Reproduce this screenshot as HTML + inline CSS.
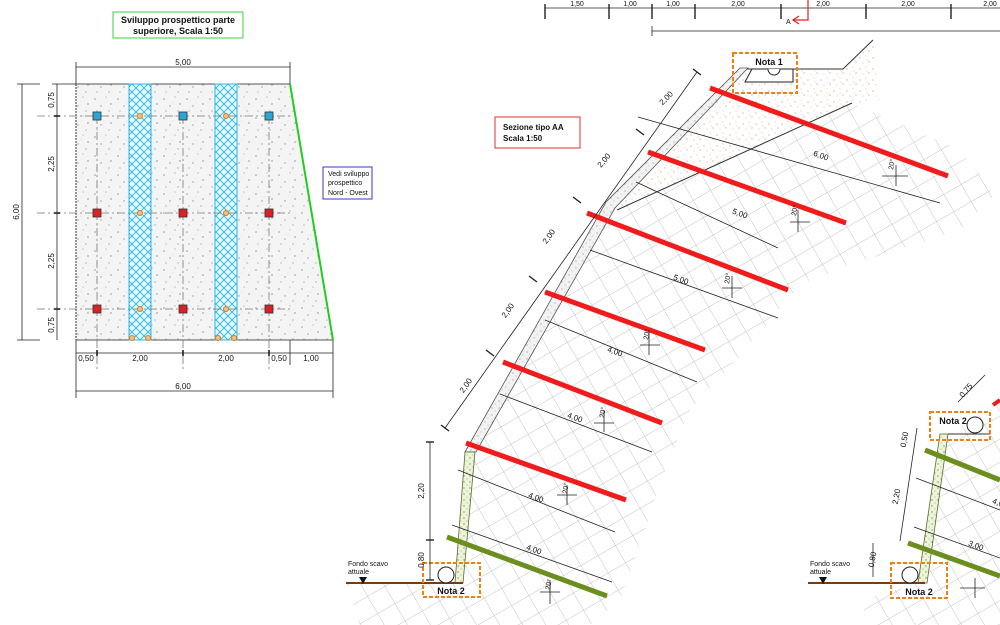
<!DOCTYPE html>
<html><head><meta charset="utf-8"><style>
html,body{margin:0;padding:0;background:#fff;width:1000px;height:625px;overflow:hidden}
svg{display:block}
text{font-family:"Liberation Sans",sans-serif;fill:#111}
</style></head><body>
<svg width="1000" height="625" viewBox="0 0 1000 625" xmlns="http://www.w3.org/2000/svg">
<defs>
<pattern id="conc" width="23" height="19" patternUnits="userSpaceOnUse">
<rect width="23" height="19" fill="#f4f4f4"/>
<circle cx="3" cy="4" r=".8" fill="#999"/><circle cx="14" cy="2" r=".6" fill="#aaa"/><circle cx="9" cy="11" r=".7" fill="#999"/><circle cx="19" cy="9" r=".9" fill="#aaa"/><circle cx="5" cy="16" r=".6" fill="#999"/><circle cx="17" cy="16" r=".7" fill="#aaa"/><circle cx="12" cy="7" r=".4" fill="#bbb"/>
</pattern>
<pattern id="hatch" width="8" height="8" patternUnits="userSpaceOnUse">
<rect width="8" height="8" fill="#e6f7fc"/>
<path d="M0,0L8,8M8,0L0,8" stroke="#29b6e8" stroke-width="0.9"/>
</pattern>
<pattern id="grid" width="20" height="20" patternUnits="userSpaceOnUse" patternTransform="rotate(-30)">
<path d="M0,0H20M0,0V20" stroke="#c4c4c4" stroke-width="1" fill="none"/>
</pattern>
<pattern id="sand" width="13" height="11" patternUnits="userSpaceOnUse">
<circle cx="2" cy="3" r=".6" fill="#d9905a"/><circle cx="8" cy="1" r=".5" fill="#e0a070"/><circle cx="11" cy="7" r=".6" fill="#d9905a"/><circle cx="5" cy="8" r=".5" fill="#e0a070"/><circle cx="9" cy="5" r=".4" fill="#c98050"/>
</pattern>
<pattern id="wallp" width="7" height="7" patternUnits="userSpaceOnUse">
<rect width="7" height="7" fill="#f2f2f2"/><circle cx="2" cy="2" r=".6" fill="#999"/><circle cx="5" cy="5" r=".5" fill="#aaa"/>
</pattern>
<pattern id="wallg" width="6" height="6" patternUnits="userSpaceOnUse">
<rect width="6" height="6" fill="#eef3dc"/><circle cx="2" cy="2" r=".7" fill="#7a9a30"/><circle cx="5" cy="5" r=".5" fill="#7a9a30"/>
</pattern>
</defs>

<!-- LEFT PANEL -->
<rect x="113" y="12" width="130" height="26" fill="#fff" stroke="#3ccf3c" stroke-width="1"/>
<text x="178" y="23" font-size="9" font-weight="bold" text-anchor="middle">Sviluppo prospettico parte</text>
<text x="178" y="34" font-size="9" font-weight="bold" text-anchor="middle">superiore, Scala 1:50</text>

<polygon points="76,84 290,84 333,340 76,340" fill="url(#conc)"/>
<line x1="76" y1="84" x2="76" y2="340" stroke="#333" stroke-width="1" stroke-dasharray="2,1"/>
<line x1="76" y1="84" x2="290" y2="84" stroke="#555" stroke-width="1"/>
<line x1="76" y1="340" x2="333" y2="340" stroke="#555" stroke-width="1"/>
<line x1="290" y1="84" x2="333" y2="340" stroke="#22cc22" stroke-width="2"/>
<rect x="129" y="84" width="22" height="256" fill="url(#hatch)" stroke="#29b6e8"/>
<rect x="215" y="84" width="22" height="256" fill="url(#hatch)" stroke="#29b6e8"/>
<g stroke="#777" stroke-width="0.8" stroke-dasharray="8,3,2,3">
<line x1="37" y1="116" x2="290" y2="116"/><line x1="37" y1="213" x2="290" y2="213"/><line x1="37" y1="309" x2="290" y2="309"/>
<line x1="97" y1="116" x2="97" y2="372"/><line x1="183" y1="116" x2="183" y2="372"/><line x1="269" y1="116" x2="269" y2="372"/>
</g>
<g stroke="#333" stroke-width=".8">
<rect x="93" y="112" width="8" height="8" fill="#29a8d8"/><rect x="179" y="112" width="8" height="8" fill="#29a8d8"/><rect x="265" y="112" width="8" height="8" fill="#29a8d8"/>
<rect x="93" y="209" width="8" height="8" fill="#e02020"/><rect x="179" y="209" width="8" height="8" fill="#e02020"/><rect x="265" y="209" width="8" height="8" fill="#e02020"/>
<rect x="93" y="305" width="8" height="8" fill="#e02020"/><rect x="179" y="305" width="8" height="8" fill="#e02020"/><rect x="265" y="305" width="8" height="8" fill="#e02020"/>
</g>
<g fill="#f0c080" stroke="#e07a10" stroke-width="1">
<circle cx="140" cy="116" r="2.5"/><circle cx="226" cy="116" r="2.5"/><circle cx="140" cy="213" r="2.5"/><circle cx="226" cy="213" r="2.5"/><circle cx="140" cy="309" r="2.5"/><circle cx="226" cy="309" r="2.5"/>
<circle cx="132" cy="338" r="2.5"/><circle cx="148" cy="338" r="2.5"/><circle cx="218" cy="338" r="2.5"/><circle cx="234" cy="338" r="2.5"/>
</g>
<g stroke="#222" stroke-width=".8" fill="none">
<line x1="76" y1="67" x2="290" y2="67"/><line x1="76" y1="62" x2="76" y2="84"/><line x1="290" y1="62" x2="290" y2="84"/>
<line x1="22" y1="84" x2="22" y2="340"/><line x1="17" y1="84" x2="40" y2="84"/><line x1="17" y1="340" x2="40" y2="340"/>
<line x1="57" y1="84" x2="57" y2="340"/><line x1="52" y1="84" x2="76" y2="84"/>
<line x1="76" y1="353" x2="333" y2="353"/><line x1="76" y1="340" x2="76" y2="398"/><line x1="290" y1="340" x2="290" y2="365"/><line x1="333" y1="340" x2="333" y2="398"/>
<line x1="76" y1="391" x2="333" y2="391"/>
</g>
<g stroke="#222" stroke-width="1.6">
<line x1="54" y1="116" x2="60" y2="116"/><line x1="54" y1="213" x2="60" y2="213"/><line x1="54" y1="309" x2="60" y2="309"/>
<line x1="97" y1="350" x2="97" y2="356"/><line x1="183" y1="350" x2="183" y2="356"/><line x1="269" y1="350" x2="269" y2="356"/>
</g>
<g font-size="8">
<text x="183" y="65" text-anchor="middle">5,00</text>
<text x="183" y="389" text-anchor="middle">6,00</text>
<text x="86" y="361" text-anchor="middle">0,50</text><text x="140" y="361" text-anchor="middle">2,00</text><text x="226" y="361" text-anchor="middle">2,00</text><text x="279" y="361" text-anchor="middle">0,50</text><text x="311" y="361" text-anchor="middle">1,00</text>
<text transform="translate(19,212) rotate(-90)" text-anchor="middle">6,00</text>
<text transform="translate(54,100) rotate(-90)" text-anchor="middle">0,75</text>
<text transform="translate(54,164) rotate(-90)" text-anchor="middle">2,25</text>
<text transform="translate(54,261) rotate(-90)" text-anchor="middle">2,25</text>
<text transform="translate(54,325) rotate(-90)" text-anchor="middle">0,75</text>
</g>
<rect x="323" y="167" width="49" height="32" fill="#fff" stroke="#3a3acc"/>
<g font-size="7"><text x="328" y="176">Vedi sviluppo</text><text x="328" y="185">prospettico</text><text x="328" y="195">Nord - Ovest</text></g>

<!-- TOP DIM RIGHT -->
<g stroke="#222" stroke-width=".8">
<line x1="545" y1="8" x2="1000" y2="8"/>
<line x1="652" y1="31" x2="1000" y2="31"/><line x1="652" y1="26" x2="652" y2="36"/>
</g>
<g stroke="#222" stroke-width="1.4">
<line x1="545" y1="4" x2="545" y2="19"/><line x1="609" y1="4" x2="609" y2="19"/><line x1="652" y1="4" x2="652" y2="19"/><line x1="695" y1="4" x2="695" y2="19"/><line x1="781" y1="4" x2="781" y2="19"/><line x1="866" y1="4" x2="866" y2="19"/><line x1="951" y1="4" x2="951" y2="19"/>
</g>
<g font-size="7" text-anchor="middle">
<text x="577" y="6">1,50</text><text x="630" y="6">1,00</text><text x="673" y="6">1,00</text><text x="738" y="6">2,00</text><text x="823" y="6">2,00</text><text x="908" y="6">2,00</text><text x="990" y="6">2,00</text>
</g>
<path d="M808,0V20H794" stroke="#e02020" stroke-width="1.2" fill="none"/>
<path d="M799,16L793,20L799,24" stroke="#e02020" stroke-width="1.2" fill="none"/>
<text x="786" y="24" font-size="7">A</text>

<!-- GRID SOIL -->
<polygon points="458,583 470,450 617,207 852,103 960,150 995,195 960,230 850,265 800,285 740,355 690,410 665,470 645,530 620,600 590,625 360,625 346,583" fill="url(#grid)"/>
<polygon points="920,583 940,440 1000,400 1000,625 870,625 860,600" fill="url(#grid)"/>
<!-- sand -->
<polygon points="744,69 843,69 873,40 880,100 852,103 617,210 610,205" fill="url(#sand)"/>
<path d="M744,69H843L873,40" stroke="#333" stroke-width="1" fill="none"/>
<line x1="617" y1="210" x2="852" y2="103" stroke="#333" stroke-width="1"/>

<!-- WALL -->
<polygon points="740,68 748,68 615,208 476,452 465,452 606,202" fill="url(#wallp)" stroke="#555" stroke-width=".8"/>
<polygon points="465,452 475,452 463,583 455,583" fill="url(#wallg)" stroke="#556b2f" stroke-width=".8"/>
<line x1="346" y1="583" x2="463" y2="583" stroke="#7a3b10" stroke-width="2"/>
<polygon points="359,577 367,577 363,584" fill="#111"/>
<text x="348" y="566" font-size="7">Fondo scavo</text><text x="348" y="574" font-size="7">attuale</text>
<circle cx="446" cy="575" r="8" fill="#fff" stroke="#222"/>
<rect x="423" y="563" width="57" height="34" fill="none" stroke="#f08010" stroke-width="2" stroke-dasharray="4,2"/>
<text x="451" y="594" font-size="9" font-weight="bold" text-anchor="middle">Nota 2</text>

<!-- Nota 1 -->
<polygon points="752,69 793,69 793,82 745,82" fill="#fff" stroke="#222"/>
<path d="M768,69a6,6 0 0 0 12,0" fill="#fff" stroke="#222"/>
<rect x="733" y="53" width="64" height="40" fill="none" stroke="#f08010" stroke-width="2" stroke-dasharray="4,2"/>
<text x="769" y="65" font-size="9" font-weight="bold" text-anchor="middle">Nota 1</text>

<!-- bars -->
<g stroke="#f01c1c" stroke-width="5" stroke-linecap="butt">
<line x1="710" y1="88" x2="948" y2="176"/>
<line x1="648" y1="152" x2="846" y2="223"/>
<line x1="587" y1="213" x2="788" y2="290"/>
<line x1="545" y1="292" x2="705" y2="350"/>
<line x1="503" y1="362" x2="662" y2="423"/>
<line x1="466" y1="443" x2="626" y2="500"/>
</g>
<line x1="447" y1="537" x2="607" y2="596" stroke="#6b8e1f" stroke-width="5"/>

<!-- anchor dim lines -->
<g stroke="#222" stroke-width=".8" fill="none">
<line x1="638" y1="117" x2="940" y2="203"/>
<line x1="636" y1="182" x2="778" y2="248"/>
<line x1="590" y1="250" x2="778" y2="318"/>
<line x1="545" y1="320" x2="697" y2="382"/>
<line x1="500" y1="394" x2="652" y2="452"/>
<line x1="458" y1="470" x2="615" y2="532"/>
<line x1="452" y1="525" x2="612" y2="582"/>
</g>
<g font-size="8" text-anchor="middle">
<text transform="translate(820,158) rotate(20)">6,00</text>
<text transform="translate(739,216) rotate(20)">5,00</text>
<text transform="translate(680,282) rotate(20)">5,00</text>
<text transform="translate(614,354) rotate(20)">4,00</text>
<text transform="translate(574,420) rotate(20)">4,00</text>
<text transform="translate(535,500) rotate(20)">4,00</text>
<text transform="translate(533,552) rotate(20)">4,00</text>
</g>
<g stroke="#222" stroke-width=".8" fill="none">
<path d="M882,176H908M896,165V186"/><path d="M790,222H810M798,210V232"/><path d="M722,288H742M732,276V298"/><path d="M640,345H660M649,330V355"/><path d="M594,423H614M604,410V432"/><path d="M557,495H577M567,485V505"/><path d="M540,592H560M550,580V604"/>
</g>
<g font-size="7">
<text transform="translate(893,170) rotate(-80)">20°</text><text transform="translate(796,216) rotate(-80)">20°</text><text transform="translate(729,284) rotate(-80)">20°</text><text transform="translate(648,340) rotate(-80)">20°</text><text transform="translate(604,418) rotate(-80)">20°</text><text transform="translate(567,494) rotate(-80)">20°</text><text transform="translate(550,590) rotate(-80)">20°</text>
</g>

<!-- slope dim -->
<g stroke="#222" stroke-width=".8"><line x1="445" y1="428" x2="697" y2="72"/><line x1="430" y1="442" x2="430" y2="580"/></g>
<g stroke="#222" stroke-width="1.4">
<line x1="441" y1="425" x2="449" y2="431"/><line x1="486" y1="350" x2="494" y2="356"/><line x1="529" y1="276" x2="537" y2="282"/><line x1="573" y1="197" x2="581" y2="203"/><line x1="636" y1="129" x2="644" y2="135"/><line x1="693" y1="69" x2="701" y2="75"/>
<line x1="426" y1="442" x2="434" y2="442"/><line x1="426" y1="540" x2="434" y2="540"/><line x1="426" y1="580" x2="434" y2="580"/>
</g>
<g font-size="8" text-anchor="middle">
<text transform="translate(468,387) rotate(-55)">2,00</text>
<text transform="translate(510,312) rotate(-55)">2,00</text>
<text transform="translate(551,238) rotate(-55)">2,00</text>
<text transform="translate(606,162) rotate(-50)">2,00</text>
<text transform="translate(668,100) rotate(-45)">2,00</text>
<text transform="translate(424,491) rotate(-90)">2,20</text>
<text transform="translate(424,560) rotate(-90)">0,80</text>
</g>

<rect x="495" y="117" width="85" height="31" fill="#fff" stroke="#e03030"/>
<text x="503" y="130" font-size="8" font-weight="bold">Sezione tipo AA</text>
<text x="503" y="141" font-size="8" font-weight="bold">Scala 1:50</text>

<!-- FAR RIGHT PARTIAL -->
<polygon points="940,434 948,434 927,583 918,583" fill="url(#wallg)" stroke="#556b2f" stroke-width=".8"/>
<line x1="948" y1="434" x2="990" y2="434" stroke="#333"/>
<line x1="808" y1="583" x2="925" y2="583" stroke="#7a3b10" stroke-width="2"/>
<polygon points="819,577 827,577 823,584" fill="#111"/>
<text x="810" y="566" font-size="7">Fondo scavo</text><text x="810" y="574" font-size="7">attuale</text>
<circle cx="910" cy="575" r="8" fill="#fff" stroke="#222"/>
<rect x="891" y="563" width="56" height="35" fill="none" stroke="#f08010" stroke-width="2" stroke-dasharray="4,2"/>
<text x="919" y="595" font-size="9" font-weight="bold" text-anchor="middle">Nota 2</text>
<circle cx="975" cy="425" r="8" fill="#fff" stroke="#222"/>
<rect x="930" y="412" width="60" height="28" fill="none" stroke="#f08010" stroke-width="2" stroke-dasharray="4,2"/>
<text x="953" y="424" font-size="9" font-weight="bold" text-anchor="middle">Nota 2</text>
<g stroke="#6b8e1f" stroke-width="5"><line x1="925" y1="450" x2="1000" y2="480"/><line x1="908" y1="543" x2="1000" y2="576"/></g>
<line x1="993" y1="405" x2="1000" y2="400" stroke="#f01c1c" stroke-width="4"/>
<g stroke="#222" stroke-width=".8"><line x1="917" y1="428" x2="900" y2="541"/><line x1="873" y1="543" x2="873" y2="577"/><line x1="916" y1="478" x2="1000" y2="510"/><line x1="914" y1="527" x2="1000" y2="558"/><line x1="958" y1="402" x2="985" y2="375"/><path d="M960,588H985M975,578V598"/></g>
<g font-size="8" text-anchor="middle">
<text transform="translate(907,440) rotate(-80)">0,50</text>
<text transform="translate(899,497) rotate(-80)">2,20</text>
<text transform="translate(875,560) rotate(-80)">0,80</text>
<text transform="translate(968,392) rotate(-50)">0,75</text>
<text transform="translate(975,548) rotate(20)">3,00</text>
<text transform="translate(997,505) rotate(20)">4,0</text>
</g>
</svg>
</body></html>
